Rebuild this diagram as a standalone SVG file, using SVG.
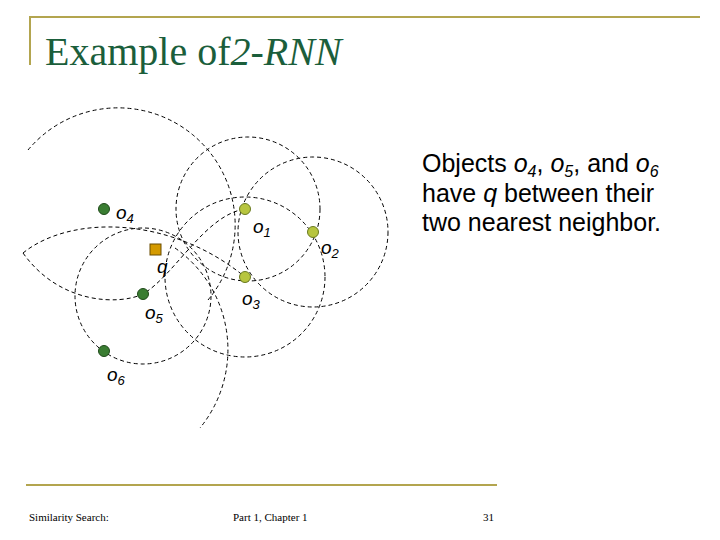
<svg xmlns="http://www.w3.org/2000/svg" width="720" height="540" viewBox="0 0 720 540">
<style>
.c{fill:none;stroke:#000;stroke-width:1;stroke-dasharray:4 3}
.lbl{font-family:"Liberation Sans",Arial,sans-serif;font-style:italic;font-size:19px}
.sub{font-size:13px}
.dk{fill:#3a7d32;stroke:#1f4a1a;stroke-width:1}
.lt{fill:#b7c53f;stroke:#6a7a20;stroke-width:1}
.ft{font-family:"Liberation Serif",serif;font-size:11px}
</style>
<rect width="720" height="540" fill="#fff"/>
<path d="M30,65 V17 H700" fill="none" stroke="#b3a54f" stroke-width="2"/>
<text x="45" y="65" font-family="Liberation Serif,serif" font-size="40" fill="#1b5e3b">Example of<tspan font-style="italic">2-RNN</tspan></text>
<g id="connectors">
<circle class="c" cx="248" cy="209" r="72"/>
<circle class="c" cx="245" cy="277" r="80"/>
<circle class="c" cx="313" cy="232" r="75"/>
<circle class="c" cx="143" cy="296" r="68"/>
<path class="c" d="M28,150 A96,96 0 1 1 208,300"/>
<path class="c" d="M175,248 A124,124 0 0 1 200,428"/>
<path class="c" d="M23,253 C70,215 170,215 245,277"/>
<path class="c" d="M23,253 C60,305 120,305 143,294 C175,275 205,215 245,209"/>
</g>
<g id="o4"><circle class="dk" cx="104" cy="209" r="5.5"/><text class="lbl" x="116" y="219">o<tspan class="sub" dy="4">4</tspan></text></g>
<g id="o1"><circle class="lt" cx="245" cy="209" r="5.5"/><text class="lbl" x="253" y="233">o<tspan class="sub" dy="4">1</tspan></text></g>
<g id="o2"><circle class="lt" cx="313" cy="232" r="5.5"/><text class="lbl" x="321" y="254">o<tspan class="sub" dy="4">2</tspan></text></g>
<g id="o3"><circle class="lt" cx="245" cy="277" r="5.5"/><text class="lbl" x="242" y="305">o<tspan class="sub" dy="4">3</tspan></text></g>
<g id="o5"><circle class="dk" cx="143" cy="294" r="5.5"/><text class="lbl" x="145" y="319">o<tspan class="sub" dy="4">5</tspan></text></g>
<g id="o6"><circle class="dk" cx="104" cy="351" r="5.5"/><text class="lbl" x="107" y="381">o<tspan class="sub" dy="4">6</tspan></text></g>
<g id="q"><rect x="150" y="244" width="11" height="11" fill="#d49a00" stroke="#6b4d00"/><text class="lbl" x="157" y="273">q</text></g>
<text font-family="Liberation Sans,Arial,sans-serif" font-size="25" fill="#000">
<tspan x="422" y="172">Objects <tspan font-style="italic">o</tspan><tspan font-style="italic" font-size="16" dy="5">4</tspan><tspan dy="-5">, </tspan><tspan font-style="italic">o</tspan><tspan font-style="italic" font-size="16" dy="5">5</tspan><tspan dy="-5">, and </tspan><tspan font-style="italic">o</tspan><tspan font-style="italic" font-size="16" dy="5">6</tspan></tspan>
<tspan x="422" y="202">have <tspan font-style="italic">q</tspan> between their</tspan>
<tspan x="422" y="231">two nearest neighbor.</tspan>
</text>
<line x1="26" y1="485" x2="497" y2="485" stroke="#b3a54f" stroke-width="2"/>
<text class="ft" x="29" y="521">Similarity Search:</text>
<text class="ft" x="233" y="521">Part 1, Chapter 1</text>
<text class="ft" x="483" y="521">31</text>
</svg>
